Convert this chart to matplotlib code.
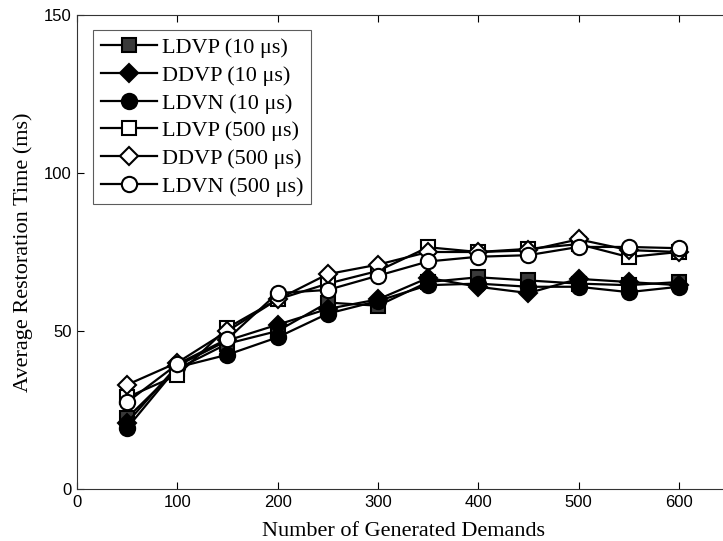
import matplotlib
matplotlib.use("Agg")
import matplotlib.pyplot as plt

# donnees
demandes = [50, 100, 150, 200, 250, 300, 350, 400, 450, 500, 550, 600]
ldvp_10 = [22.5, 38, 46, 50, 59, 58, 65.5, 67, 66, 65, 64.5, 65.5]
ddvp_10 = [21, 39, 47, 52, 57, 60, 66.8, 64, 62, 66.5, 65.5, 64.5]
ldvn_10 = [19.3, 38.5, 42.5, 48, 55.5, 59.5, 64.5, 65, 64, 64, 62.3, 64]
ldvp_500 = [29, 36, 51, 60, 65, 69, 76.5, 75, 76, 77.5, 73.4, 75]
ddvp_500 = [33, 40, 50, 60, 68, 71, 75, 75, 75.5, 79, 75.6, 75]
ldvn_500 = [27.5, 39.5, 47.5, 62, 63, 67.5, 72, 73.5, 74, 76.6, 76.6, 76.2]

labels = ["LDVP (10 \u03bcs)", "DDVP (10 \u03bcs)", "LDVN (10 \u03bcs)",
          "LDVP (500 \u03bcs)", "DDVP (500 \u03bcs)", "LDVN (500 \u03bcs)"]
series = [ldvp_10, ddvp_10, ldvn_10, ldvp_500, ddvp_500, ldvn_500]
marqueurs = ["s", "D", "o", "s", "D", "o"]
remplis = ["#3a3a3a", "black", "black", "white", "white", "white"]
tailles = [10, 9, 11, 10, 9, 11]

fig = plt.figure(figsize=(7.23, 5.41), dpi=100)
# l'axe depasse a droite (figure rognee)
ax = fig.add_axes([77 / 723, 52 / 541, 652 / 723, 474 / 541])

for y, lab, m, fc, ms in zip(series, labels, marqueurs, remplis, tailles):
    ax.plot(demandes, y, color="black", linewidth=1.6, marker=m,
            markersize=ms, markerfacecolor=fc, markeredgecolor="black",
            markeredgewidth=1.5, label=lab)

ax.set_xlim(0, 650)
ax.set_ylim(0, 150)
ax.set_xticks([0, 100, 200, 300, 400, 500, 600])
ax.set_yticks([0, 50, 100, 150])
ax.tick_params(direction="in", top=True, right=False, length=5,
               labelsize=12, pad=4)
for lbl in ax.get_xticklabels() + ax.get_yticklabels():
    lbl.set_fontfamily("Liberation Sans")
for s in ax.spines.values():
    s.set_linewidth(0.8)
    s.set_color("#333333")

ax.set_xlabel("Number of Generated Demands", fontfamily="Liberation Serif",
              fontsize=16, labelpad=9)
ax.set_ylabel("Average Restoration Time (ms)", fontfamily="Liberation Serif",
              fontsize=16, labelpad=8)

leg = ax.legend(loc="upper left", bbox_to_anchor=(0.018, 0.978),
                prop={"family": "Liberation Serif", "size": 16},
                frameon=True, fancybox=False, edgecolor="#333333",
                borderpad=0.35, labelspacing=0.32, handlelength=2.5,
                handletextpad=0.25, borderaxespad=0.2)
leg.get_frame().set_linewidth(0.8)

fig.savefig("out.png", dpi=100)
